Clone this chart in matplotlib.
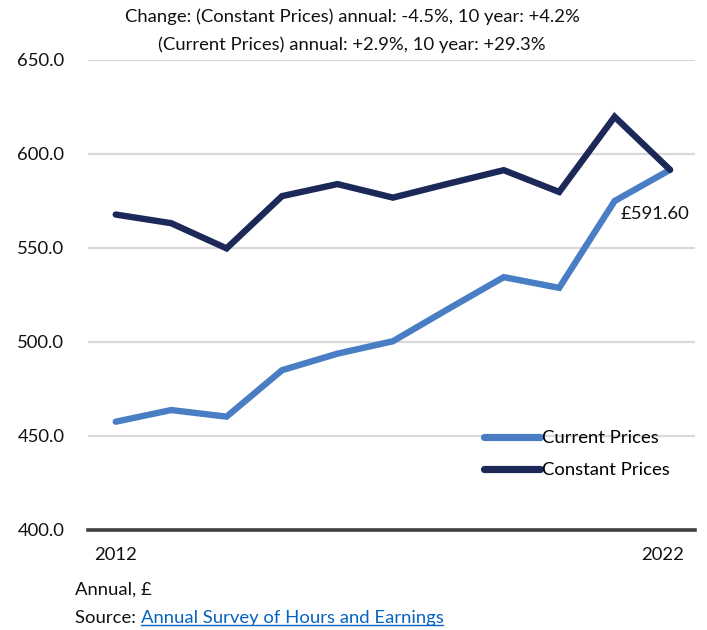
import matplotlib
matplotlib.use("Agg")
import matplotlib.pyplot as plt
from matplotlib.lines import Line2D

plt.rcParams['font.family'] = ['Lato', 'DejaVu Sans']

years = [2012, 2013, 2014, 2015, 2016, 2017, 2018, 2019, 2020, 2021, 2022]
current_prices = [457.6, 463.8, 460.3, 485.0, 493.8, 500.4, 517.6, 534.5, 528.8, 575.0, 591.6]
constant_prices = [567.8, 563.2, 549.8, 577.6, 584.0, 576.8, 584.2, 591.4, 579.8, 619.8, 591.6]
yticks = [400, 450, 500, 550, 600, 650]
xtick_labels = ["2012", "2022"]
title_lines = ["Change: (Constant Prices) annual: -4.5%, 10 year: +4.2%",
               "(Current Prices) annual: +2.9%, 10 year: +29.3%"]
last_label = "£591.60"

c_current = "#4A7EC4"
c_constant = "#1C2858"
FS = 13.3

fig = plt.figure(figsize=(7.07, 6.30), dpi=100)
ax = fig.add_axes([88/707, 1 - 530/630, (695-88)/707, (530-60)/630])

ax.plot(years, current_prices, color=c_current, lw=4.6, solid_capstyle='round',
        solid_joinstyle='miter', label="Current Prices", zorder=3)
ax.plot(years, constant_prices, color=c_constant, lw=4.6, solid_capstyle='round',
        solid_joinstyle='miter', label="Constant Prices", zorder=3)

ax.set_xlim(2011.5, 2022.45)
ax.set_ylim(400, 650)
ax.set_yticks(yticks)
ax.set_yticklabels([f"{v:.1f}" for v in yticks], fontsize=FS, color="#111111")
ax.set_xticks([years[0], years[-1] - 0.13])
ax.set_xticklabels(xtick_labels, fontsize=FS, color="#111111")
ax.tick_params(axis='both', length=0)
ax.tick_params(axis='y', pad=17)
ax.tick_params(axis='x', pad=12)
for s in ['top', 'right', 'left']:
    ax.spines[s].set_visible(False)
ax.spines['bottom'].set_color("#404040")
ax.spines['bottom'].set_linewidth(2.6)
ax.grid(axis='y', color="#D9D9D9", lw=1.6)
ax.set_axisbelow(True)

ax.annotate(last_label, xy=(years[-1], current_prices[-1]), xytext=(-11, -32),
            textcoords='offset points', ha='center', va='center', fontsize=FS,
            color="#111111")

leg = ax.legend(loc='lower right', bbox_to_anchor=(0.985, 0.075), frameon=False,
                fontsize=FS, handlelength=3.0, handletextpad=0.1, labelspacing=0.85)
for h in leg.get_lines():
    h.set_linewidth(5.2)

fig.text(352/707, 1 - 17/630, title_lines[0], ha='center', va='center', fontsize=FS, color="#111111")
fig.text(352/707, 1 - 45/630, title_lines[1], ha='center', va='center', fontsize=FS, color="#111111")

fig.text(75/707, 1 - 590/630, "Annual, £", ha='left', va='center', fontsize=FS, color="#111111")
t1 = fig.text(75/707, 1 - 618/630, "Source: ", ha='left', va='center', fontsize=FS, color="#111111")
fig.canvas.draw()
r = fig.canvas.get_renderer()
bb = t1.get_window_extent(r)
t2 = fig.text(bb.x1 / 707, 1 - 618/630, "Annual Survey of Hours and Earnings", ha='left',
              va='center', fontsize=FS, color="#0563C1")
fig.canvas.draw()
bb2 = t2.get_window_extent(r)
uy = (bb2.y0 + 1) / 630
fig.add_artist(Line2D([bb2.x0 / 707, bb2.x1 / 707], [uy, uy], color="#0563C1", lw=1.0,
                      transform=fig.transFigure))

fig.savefig("out.png", dpi=100)
